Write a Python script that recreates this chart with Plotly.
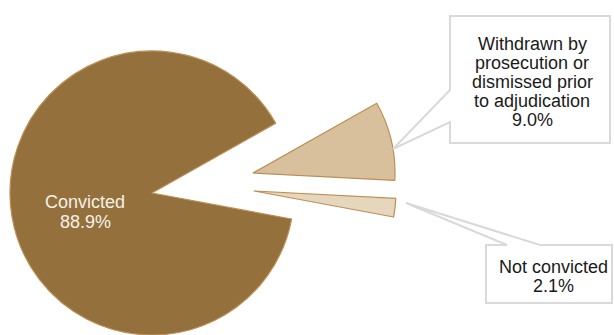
import plotly.graph_objects as go

# Case outcomes, listed in the clockwise order the slices are drawn
outcomes = [
    "Withdrawn by prosecution or dismissed prior to adjudication",
    "Not convicted",
    "Convicted",
]
shares = [9.0, 2.1, 88.9]  # percent of cases
# How each outcome name is broken over lines in its label
label_lines = [
    ["Withdrawn by", "prosecution or", "dismissed prior", "to adjudication"],
    ["Not convicted"],
    ["Convicted"],
]

W, H = 614, 335
R = 142                       # pie radius, px
START_ANGLE = 60.6            # first slice edge, degrees clockwise from 12 o'clock
# Centre of the pie each slice is drawn from (px); the two small slices are exploded
centres = [(253, 173), (254, 191), (152, 193)]

slice_colors = ["#D8C09C", "#E6D6BB", "#94703D"]
edge_color = "#BD8F56"
CLEAR = "rgba(0,0,0,0)"
FONT = "Liberation Sans, Arial, sans-serif"


def px(x, y):
    """Pixel position -> paper fraction."""
    return x / W, 1 - y / H


def path(points):
    pts = [px(x, y) for x, y in points]
    return "M " + " L ".join(f"{a:.5f},{b:.5f}" for a, b in pts) + " Z"


fig = go.Figure()

# One pie per slice so each can sit at its own (exploded) centre
for i, (cx, cy) in enumerate(centres):
    fills = [CLEAR] * len(shares)
    edges = [CLEAR] * len(shares)
    fills[i] = slice_colors[i]
    edges[i] = edge_color
    fig.add_trace(go.Pie(
        labels=outcomes,
        values=shares,
        sort=False,
        direction="clockwise",
        rotation=START_ANGLE,
        marker=dict(colors=fills, line=dict(color=edges, width=1.2)),
        textinfo="none",
        hoverinfo="label+percent",
        domain=dict(x=[(cx - R) / W, (cx + R) / W],
                    y=[1 - (cy + R) / H, 1 - (cy - R) / H]),
        showlegend=False,
    ))

# Callout boxes with pointers
box_line = dict(color="#D9D9D9", width=2)
withdrawn_box = [(450, 16), (610, 16), (610, 143), (450, 143), (450, 122), (393, 149), (450, 90)]
not_conv_box = [(486, 245), (507, 245), (406, 203), (540, 245), (612, 245), (612, 303), (486, 303)]
for pts in (withdrawn_box, not_conv_box):
    fig.add_shape(type="path", path=path(pts), xref="paper", yref="paper",
                  fillcolor="white", line=box_line, layer="above")

# Label text, one annotation per line
FS = 18
label_layout = [
    # (centre x, first baseline, line step, colour)
    (532, 50, 19, "#1A1A1A"),
    (553, 273, 19.5, "#1A1A1A"),
    (85, 208, 20, "#F5F0E8"),
]
for lines, share, (lx, base, step, col) in zip(label_lines, shares, label_layout):
    rows = lines + [f"{share:.1f}%"]
    for k, row in enumerate(rows):
        x, y = px(lx, base + k * step - 0.35 * FS)
        fig.add_annotation(text=row, x=x, y=y, xref="paper", yref="paper",
                           xanchor="center", yanchor="middle", showarrow=False,
                           font=dict(family=FONT, size=FS, color=col))

fig.update_layout(
    width=W, height=H,
    margin=dict(l=0, r=0, t=0, b=0),
    paper_bgcolor="white",
    plot_bgcolor="white",
    font=dict(family=FONT),
)

fig.write_html("out.html")
